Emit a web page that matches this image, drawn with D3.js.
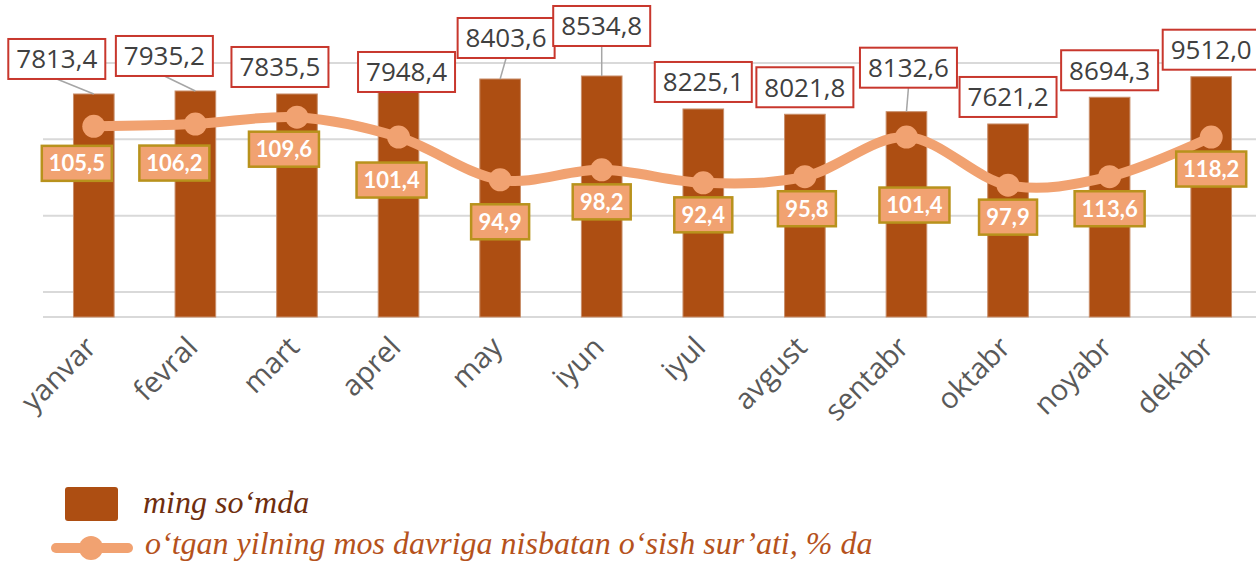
<!DOCTYPE html>
<html>
<head>
<meta charset="utf-8">
<script src="https://cdn.jsdelivr.net/npm/d3@7"></script>
<style>
    body { margin: 0; background: #fff; }
    svg { display: block; }
</style>
</head>
<body>
<div id="chart"></div>
<script>
var months = ['yanvar', 'fevral', 'mart', 'aprel', 'may', 'iyun', 'iyul',
    'avgust', 'sentabr', 'oktabr', 'noyabr', 'dekabr'];

// printed data labels
var amountLabels = ['7813,4', '7935,2', '7835,5', '7948,4', '8403,6', '8534,8',
    '8225,1', '8021,8', '8132,6', '7621,2', '8694,3', '9512,0'];
var rateLabels = ['105,5', '106,2', '109,6', '101,4', '94,9', '98,2',
    '92,4', '95,8', '101,4', '97,9', '113,6', '118,2'];

// heights as drawn in the source picture (they do not follow the printed labels)
var amountDrawn = [7810, 7915, 7810, 7915, 8335, 8440, 7285, 7100, 7190, 6760, 7695, 8415];
var rateDrawn = [111.7, 112.0, 112.9, 110.3, 104.7, 106.0, 104.3, 105.1, 110.3, 104.0, 105.1, 110.3];

var gridTicks = [90, 100, 110, 120];

var legendNames = ['ming so\u2018mda',
    'o\u2018tgan yilning mos davriga nisbatan o\u2018sish sur\u2019ati, % da'];

// hand-moved labels: [dx, dy] away from default place
var amountShift = [[-37, -8], [-31, -8], [-17, 0], [8, 8], [6, -14], [0, -23],
    [0, 0], [0, 0], [2, -17], [0, 0], [0, 0], [0, 0]];
var rateShift = [[-17, 5], [-21, 7], [-13, 0], [-7, 11], [0, 10], [0, 0],
    [0, 0], [2, 0], [8, 36], [0, 0], [0, 0], [0, 0]];

var width = 1256;
var height = 561;
var barColour = '#ad4e12';
var lineColour = '#f1a271';

var svg = d3.select('#chart')
    .append('svg')
    .attr('width', width)
    .attr('height', height);

var x = d3.scaleBand()
    .domain(months)
    .range([43, 1262])
    .paddingInner(0.6)
    .paddingOuter(0.3);

var yBar = d3.scaleLinear()
    .domain([0, 9000])
    .range([317, 60]);

var yRate = d3.scaleLinear()
    .domain([90, 120])
    .range([292, 63]);

function cx(d) {
    return x(d) + x.bandwidth() / 2;
}

// gridlines
svg.selectAll('.grid')
    .data(gridTicks)
    .enter().append('line')
    .attr('x1', 43)
    .attr('x2', width)
    .attr('y1', function(d) { return yRate(d); })
    .attr('y2', function(d) { return yRate(d); })
    .style('stroke', '#d9d9d9')
    .style('stroke-width', 2);

svg.append('line')
    .attr('x1', 43)
    .attr('x2', width)
    .attr('y1', yBar(0))
    .attr('y2', yBar(0))
    .style('stroke', '#d9d9d9')
    .style('stroke-width', 2);

// bars
svg.selectAll('.bar')
    .data(months)
    .enter().append('rect')
    .attr('class', 'bar')
    .attr('x', function(d) { return x(d); })
    .attr('width', x.bandwidth())
    .attr('y', function(d, i) { return yBar(amountDrawn[i]); })
    .attr('height', function(d, i) { return yBar(0) - yBar(amountDrawn[i]); })
    .style('fill', barColour)
    .style('stroke', '#c98f6b')
    .style('stroke-width', 1);

// category labels
svg.selectAll('.month')
    .data(months)
    .enter().append('text')
    .attr('transform', function(d) {
        return 'translate(' + (cx(d) + 4) + ',349) rotate(-45)';
    })
    .attr('text-anchor', 'end')
    .style('font-family', 'Open Sans')
    .style('font-size', '29px')
    .style('fill', '#595959')
    .text(function(d) { return d; });

// amount label positions
var amountBoxes = months.map(function(d, i) {
    return {
        bx: cx(d),
        by: yBar(amountDrawn[i]),
        x: cx(d) + amountShift[i][0],
        y: yBar(amountDrawn[i]) - 27 + amountShift[i][1],
        text: amountLabels[i],
        lifted: amountShift[i][1] < -5
    };
});

// leader lines
svg.selectAll('.leader')
    .data(amountBoxes.filter(function(b) { return b.lifted; }))
    .enter().append('line')
    .attr('x1', function(b) { return b.x; })
    .attr('y1', function(b) { return b.y + 20; })
    .attr('x2', function(b) { return b.bx; })
    .attr('y2', function(b) { return b.by; })
    .style('stroke', '#a6a6a6')
    .style('stroke-width', 1.5);

// the line
var line = d3.line()
    .x(function(d, i) { return cx(months[i]); })
    .y(function(d) { return yRate(d); })
    .curve(d3.curveCatmullRom.alpha(0));

svg.append('path')
    .datum(rateDrawn)
    .attr('d', line)
    .style('fill', 'none')
    .style('stroke', lineColour)
    .style('stroke-width', 10)
    .style('stroke-linecap', 'round');

svg.selectAll('.marker')
    .data(rateDrawn)
    .enter().append('circle')
    .attr('cx', function(d, i) { return cx(months[i]); })
    .attr('cy', function(d) { return yRate(d); })
    .attr('r', 11.5)
    .style('fill', lineColour);

// amount label boxes
var ag = svg.selectAll('.amount')
    .data(amountBoxes)
    .enter().append('g')
    .attr('transform', function(b) { return 'translate(' + b.x + ',' + b.y + ')'; });

ag.append('rect')
    .attr('x', -48.5)
    .attr('y', -20)
    .attr('width', 97)
    .attr('height', 40)
    .style('fill', '#fff')
    .style('stroke', '#c8372d')
    .style('stroke-width', 2);

ag.append('text')
    .attr('text-anchor', 'middle')
    .attr('y', 9.5)
    .style('font-family', 'Open Sans')
    .style('font-size', '26px')
    .style('fill', '#404040')
    .text(function(b) { return b.text; });

// rate label boxes
var rg = svg.selectAll('.rate')
    .data(rateDrawn)
    .enter().append('g')
    .attr('transform', function(d, i) {
        return 'translate(' + (cx(months[i]) + rateShift[i][0]) + ',' +
            (yRate(d) + 32 + rateShift[i][1]) + ')';
    });

rg.append('rect')
    .attr('x', function(d, i) { return rateLabels[i].length > 4 ? -35 : -29; })
    .attr('y', -17.5)
    .attr('width', function(d, i) { return rateLabels[i].length > 4 ? 70 : 58; })
    .attr('height', 35)
    .style('fill', lineColour)
    .style('stroke', '#b8921c')
    .style('stroke-width', 2.5);

rg.append('text')
    .attr('text-anchor', 'middle')
    .attr('y', 8)
    .style('font-family', 'Lato')
    .style('font-weight', 'bold')
    .style('font-size', '22px')
    .style('fill', '#fff')
    .text(function(d, i) { return rateLabels[i]; });

// legend
var legend = svg.append('g');

legend.append('rect')
    .attr('x', 65)
    .attr('y', 487)
    .attr('width', 53)
    .attr('height', 34)
    .attr('rx', 3)
    .style('fill', barColour);

legend.append('line')
    .attr('x1', 56)
    .attr('x2', 128)
    .attr('y1', 548)
    .attr('y2', 548)
    .style('stroke', lineColour)
    .style('stroke-width', 10)
    .style('stroke-linecap', 'round');

legend.append('circle')
    .attr('cx', 91)
    .attr('cy', 548)
    .attr('r', 12)
    .style('fill', lineColour);

legend.selectAll('.ltext')
    .data(legendNames)
    .enter().append('text')
    .attr('x', function(d, i) { return i ? 145 : 143; })
    .attr('y', function(d, i) { return i ? 554 : 513; })
    .style('font-family', 'Liberation Serif')
    .style('font-style', 'italic')
    .style('font-size', '32px')
    .style('fill', function(d, i) { return i ? '#b5521c' : '#6e2e0e'; })
    .text(function(d) { return d; });
</script>
</body>
</html>
